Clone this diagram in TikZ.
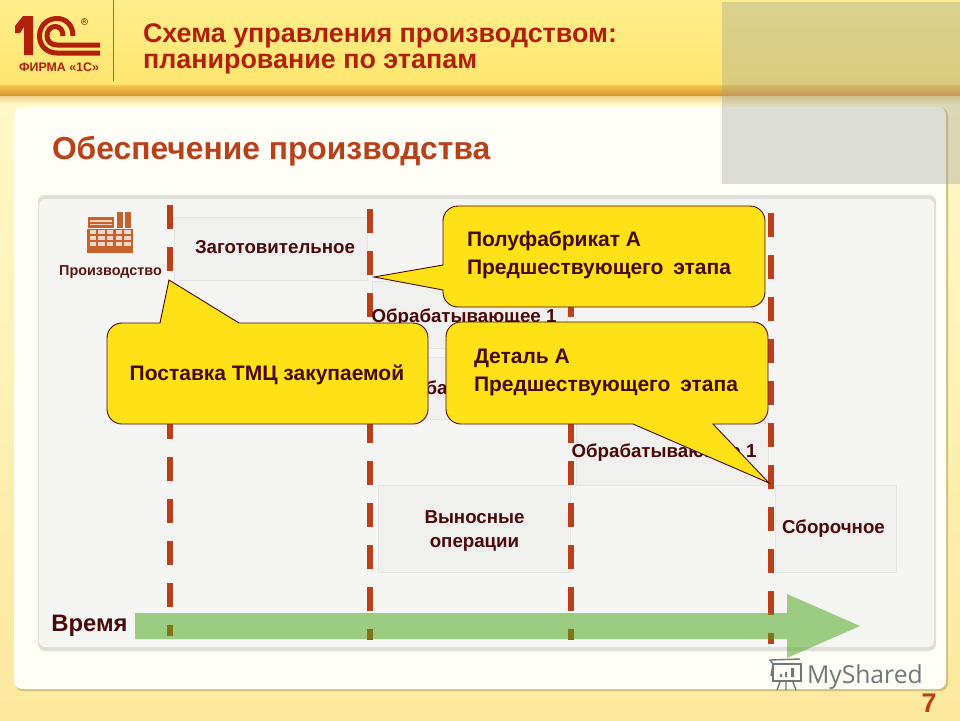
\documentclass[tikz,border=0pt]{standalone}
\usepackage{fontspec}
\setmainfont{Liberation Sans}
\newfontfamily\wmfont{Open Sans}
\definecolor{ink}{HTML}{4A0808}
\definecolor{titlered}{HTML}{B0200A}
\definecolor{rust}{HTML}{B8401A}
\definecolor{ybox}{HTML}{FFE117}
\definecolor{factory}{HTML}{C8622C}
\definecolor{wm}{HTML}{6E787A}
\definecolor{rowfill}{HTML}{F0F0EE}
\definecolor{rowline}{HTML}{E4E4E0}
\definecolor{panelfill}{HTML}{F5F5F3}
\definecolor{panelrim}{HTML}{DEDEDA}
\definecolor{gr}{RGB}{78,167,30}
\definecolor{veil}{RGB}{154,157,150}
\definecolor{bgtop}{HTML}{FFF8C8}
\definecolor{bgbot}{HTML}{FCE99C}
\definecolor{headA}{HTML}{FEE56E}
\definecolor{headB}{HTML}{FFEE8C}
\definecolor{bandA}{HTML}{F5C850}
\definecolor{bandB}{HTML}{D9972F}
\definecolor{cream}{HTML}{FFFEF6}
\tikzset{
  every node/.style={inner sep=0pt,outer sep=0pt},
  rowbox/.style={fill=rowfill,draw=rowline,line width=.6pt},
  stageline/.style={draw=rust,line width=6pt,dash pattern=on 24pt off 18pt},
  callout/.style={fill=ybox,draw=ink,line width=.9pt,line join=miter},
  lbl/.style={font=\bfseries\fontsize{18.7}{22}\selectfont,text=ink,anchor=base},
  cotext/.style={font=\bfseries\fontsize{21}{24}\selectfont,text=ink,anchor=base west},
}
\begin{document}
\begin{tikzpicture}[x=1pt,y=-1pt]
\useasboundingbox (0,0) rectangle (960,720);
% background and header
\shade[top color=bgtop,bottom color=bgbot] (0,95) rectangle (960,720);
\shade[top color=bandB!45!bgtop,bottom color=bgtop] (0,95) rectangle (960,104);
\shade[top color=headB,bottom color=headA] (0,0) rectangle (960,85);
\shade[top color=bandA,bottom color=bandB] (0,85) rectangle (960,95);
% white sheet
\fill[rounded corners=8pt,fill=black!18!bgbot] (15,108) rectangle (948,691);
\fill[rounded corners=8pt,fill=cream] (14,107) rectangle (946,689);
% inner panel
\fill[rounded corners=7pt,fill=panelrim] (38,195) rectangle (936,651);
\fill[rounded corners=6pt,fill=panelfill] (39,199) rectangle (934,647);
% logo
\draw[color=black!25!bandB,line width=.6pt] (113,0) -- (113,81);
\fill[titlered] (15,33) -- (15,26) -- (23,16) -- (33,16) -- (33,55) -- (24,55) -- (24,27) -- (20,33) -- cycle;
\draw[titlered,line width=5pt] (73,36) .. controls (73,25) and (66,18.5) .. (57,18.5) .. controls (47,18.5) and (39.5,26) .. (39.5,36) .. controls (39.5,46) and (47,53) .. (57,53) -- (100,53);
\draw[titlered,line width=5pt] (63,36) .. controls (63,30) and (60,26.5) .. (55,26.5) .. controls (50,26.5) and (47,31) .. (47,36) .. controls (47,41) and (51,45) .. (57,45) -- (100,45);
\draw[titlered,line width=.5pt] (84.5,21.5) circle[radius=3.2pt];
\node[text=titlered,font=\bfseries\fontsize{5}{5}\selectfont] (reg) at (84.5,21.5) {R};
\node[text=titlered,font=\bfseries\fontsize{12.4}{14}\selectfont] (firm) at (59,67) {ФИРМА «1С»};
% titles
\node[anchor=base west,text=titlered,font=\bfseries\fontsize{26.9}{30}\selectfont] (t1) at (143,42) {Схема управления производством:};
\node[anchor=base west,text=titlered,font=\bfseries\fontsize{26.9}{30}\selectfont] (t2) at (143,68) {планирование по этапам};
\node[anchor=base west,text=rust,font=\bfseries\fontsize{31.8}{36}\selectfont] (sub) at (52,159) {Обеспечение производства};
% factory icon
\fill[factory] (87,229) rectangle (133,253);
\fill[factory] (88,217) rectangle (114,228);
\fill[factory] (117,212) rectangle (123,228);
\fill[factory] (125,212) rectangle (131,228);
\fill[white!70!factory] (90,220) rectangle (112,221.5);
\fill[white!70!factory] (90,223.5) rectangle (112,225);
\foreach \i in {0,...,4}{\foreach \j in {0,...,2}{
  \fill[white!75!factory] (89.5+8.7*\i,234+6*\j) rectangle +(6.3,-3.8);
}}
\node[text=ink!85!factory,font=\bfseries\fontsize{14.4}{16}\selectfont] (prod) at (110.5,272) {Производство};
% rows
\node[rowbox,minimum width=193pt,minimum height=63pt,anchor=north west] (r1) at (174,217) {};
\node[rowbox,minimum width=195pt,minimum height=67pt,anchor=north west] (r2) at (372,281) {};
\node[rowbox,minimum width=195pt,minimum height=62pt,anchor=north west] (r3) at (372,357) {};
\node[rowbox,minimum width=192pt,minimum height=67pt,anchor=north west] (r4) at (576,418) {};
\node[rowbox,minimum width=192pt,minimum height=87pt,anchor=north west] (r5) at (378,485) {};
\node[rowbox,minimum width=121pt,minimum height=87pt,anchor=north west] (r6) at (775,485) {};
% stage lines
\coordinate (a1) at (170,205); \coordinate (a2) at (170,636);
\coordinate (b1) at (370,209); \coordinate (b2) at (370,640);
\coordinate (c1) at (571,209); \coordinate (c2) at (571,640);
\coordinate (d1) at (771,213); \coordinate (d2) at (771,644);
\draw[stageline] (a1) -- (a2);
\draw[stageline] (b1) -- (b2);
\draw[stageline] (c1) -- (c2);
\draw[stageline] (d1) -- (d2);
% row labels
\node[lbl] (l1) at (275,253) {Заготовительное};
\node[lbl] (l2) at (464,322) {Обрабатывающее 1};
\node[lbl] (l3) at (436.5,394) {ба};
\node[lbl] (l4) at (664,457) {Обрабатывающее 1};
\node[lbl] (l5) at (474.5,523) {Выносные};
\node[lbl] (l5b) at (474.5,547) {операции};
\node[lbl] (l6) at (833.5,533) {Сборочное};
% time arrow
\node[anchor=base,text=ink,font=\bfseries\fontsize{23.8}{26}\selectfont] (time) at (89.5,631) {Время};
\fill[gr,opacity=.53] (135,613) -- (787,613) -- (787,594) -- (860,626) -- (787,658) -- (787,639) -- (135,639) -- cycle;
% callouts
\path[callout] (600,206) [rounded corners=15pt] -- (765,206) -- (765,307) -- (443,307) [sharp corners] -- (443,290) -- (374,277) -- (443,265) [rounded corners=15pt] -- (443,206) -- cycle;
\path[callout] (300,323) [rounded corners=15pt] -- (428,323) -- (428,424) -- (107,424) -- (107,323) [sharp corners] -- (160,323) -- (169,280) -- (239,323) -- cycle;
\path[callout] (600,322) [rounded corners=15pt] -- (768,322) -- (768,424) [sharp corners] -- (713,424) -- (769,483) -- (633,424) [rounded corners=15pt] -- (446,424) -- (446,322) -- cycle;
\node[cotext] (c1a) at (467,246) {Полуфабрикат А};
\node[cotext] (c1b) at (467,274) {Предшествующего\hspace{4pt} этапа};
\node[cotext,anchor=base] (c2a) at (267,380) {Поставка ТМЦ закупаемой};
\node[cotext] (c3a) at (474,363) {Деталь А};
\node[cotext] (c3b) at (474,391) {Предшествующего\hspace{4pt} этапа};
% watermark
\node[anchor=base west,text=wm,font=\wmfont\fontsize{24.7}{30}\selectfont] (ms) at (807,683) {MyShared};
\draw[wm,line width=1.6pt] (773,664) rectangle (801,681);
\draw[wm,line width=1.4pt] (773,664) -- (770,660) -- (800,659) (773,664) -- (771,676);
\fill[wm] (780,674) rectangle (782,677) (785,672) rectangle (787,677) (791,668) rectangle (794,677);
\draw[wm,line width=1.4pt] (780,682) -- (777,690) (786,682) -- (786,690) (793,682) -- (796,690);
% page number
\node[text=rust,font=\bfseries\fontsize{27}{30}\selectfont] (pg) at (929,703) {7};
% veil
\fill[veil,opacity=.35] (722,2) rectangle (960,184);
\end{tikzpicture}
\end{document}
